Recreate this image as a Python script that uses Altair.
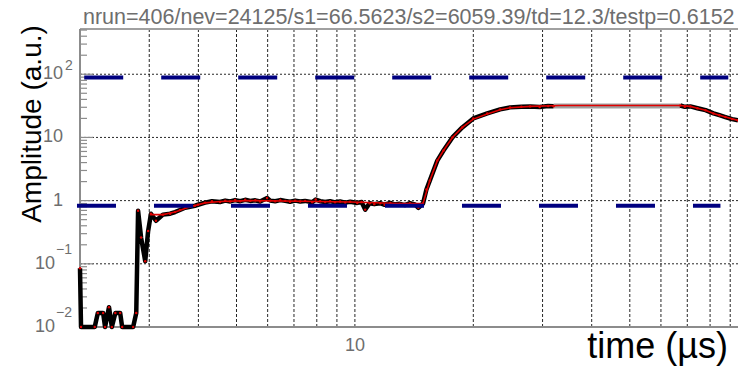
import altair as alt
import pandas as pd

# ---------------- data ----------------
title_text = "nrun=406/nev=24125/s1=66.5623/s2=6059.39/td=12.3/testp=0.6152"

# measured signal, first part (time in us, amplitude)
sig1_t = [2.000, 2.012, 2.18, 2.22, 2.29, 2.316, 2.37, 2.41, 2.46, 2.53, 2.56, 2.73,
          2.78, 2.81, 2.86, 2.93, 2.98, 3.03, 3.12, 3.25, 3.39, 3.49, 3.59, 3.70,
          3.81, 3.92, 3.99, 4.16, 4.33, 4.54, 4.68, 4.82, 4.96, 5.11, 5.26, 5.42,
          5.58, 5.74, 5.98, 6.09, 6.27, 6.46, 6.65, 6.84, 7.05, 7.26, 7.47, 7.79,
          7.95, 8.16, 8.40, 8.65, 8.90, 9.17, 9.45, 9.73, 10.14, 10.40, 10.62, 10.9,
          11.2, 11.6, 11.9, 12.3, 12.6, 13.0, 13.4, 13.8, 14.2, 14.5, 14.9, 15.2,
          15.5, 16.2, 16.8, 17.7, 18.75, 20.0, 21.7, 23.4, 24.8, 26.5, 27.9, 29.5,
          31.0, 32.0]
sig1_a = [0.085, 0.01, 0.01, 0.0167, 0.0167, 0.01, 0.0206, 0.01, 0.0167, 0.0167, 0.01, 0.01,
          0.0166, 0.69, 0.26, 0.11, 0.33, 0.62, 0.48, 0.60, 0.62, 0.66, 0.71, 0.77,
          0.80, 0.83, 0.86, 0.93, 0.98, 0.95, 1.00, 0.97, 1.02, 0.98, 1.03, 0.99,
          1.01, 0.97, 1.10, 1.00, 0.98, 1.02, 0.99, 0.96, 1.00, 0.97, 0.99, 0.94,
          1.04, 0.98, 0.95, 0.98, 0.94, 0.97, 0.93, 0.96, 0.92, 0.95, 0.72, 0.91,
          0.88, 0.91, 0.86, 0.92, 0.87, 0.89, 0.85, 0.91, 0.87, 0.77, 0.90, 1.5,
          2.07, 4.3, 6.2, 10.0, 14.4, 20.0, 24.0, 27.8, 29.9, 30.5, 31.0, 30.2,
          31.5, 31.2]
# measured signal, tail part
sig2_t = [67.2, 69.0, 71.3, 74.3, 77.9, 81.6, 84.5, 87.5, 91.0, 94.2]
sig2_a = [32.0, 30.5, 31.0, 29.0, 27.0, 24.0, 22.5, 21.0, 19.5, 18.6]
# saturated stretch (grey)
sat_t = [32.0, 67.2]
sat_a = [31.5, 31.5]
# fit curve
fit_t = [3.01, 3.25, 3.49, 3.81, 4.16, 4.54, 5.42, 7.26, 9.73, 13.0, 14.9, 15.5, 16.2,
         16.8, 17.7, 18.75, 20.0, 21.7, 23.4, 24.8, 27.9, 33.3, 67.2, 71.3, 74.3,
         77.9, 81.6, 87.5, 94.2]
fit_a = [0.60, 0.60, 0.66, 0.80, 0.92, 0.97, 1.00, 0.98, 0.95, 0.90, 0.90, 2.07, 4.3,
         6.2, 10.0, 14.4, 19.5, 23.5, 27.5, 29.5, 31.0, 32.0, 32.0, 31.0, 29.0,
         27.0, 24.0, 21.0, 18.6]
# dashed blue reference lines
dash_y = [89.0, 0.83]
dash_x1 = [2.05, 1.965]
dash_x2 = [89.0, 85.0]
# axes
xgrid_vals = [3, 4, 5, 6, 7, 8, 9, 10, 20, 30, 40, 50, 60, 70, 80, 90]
ygrid_vals = [0.1, 1, 10, 100]
ytick_vals = [100, 10, 1, 0.1, 0.01]
ytick_base = ["10", "10", "1", "10", "10"]
ytick_exp = ["2", "", "", "\u22121", "\u22122"]
ymajor_ticks = [0.01, 0.1, 1, 10, 100]
yminor_ticks = [k * 10.0 ** e for e in range(-2, 3) for k in range(2, 10) if k * 10.0 ** e <= 500]
xlabel_vals = [10]
xlabel_text = ["10"]

W, H = 658, 298
xs = alt.Scale(type="log", domain=[2, 94.2])
ys = alt.Scale(type="log", domain=[0.01, 520])
FONT = "Liberation Sans"
GREY = "#8c8c8c"
LABC = "#6e6e6e"

sig1 = pd.DataFrame({"t": sig1_t, "a": sig1_a, "seg": 1})
sig2 = pd.DataFrame({"t": sig2_t, "a": sig2_a, "seg": 2})
sig = pd.concat([sig1, sig2], ignore_index=True)

X = lambda f: alt.X(f, scale=xs, axis=None, title=None)
Y = lambda f: alt.Y(f, scale=ys, axis=None, title=None)

xgrid = alt.Chart(pd.DataFrame({"v": xgrid_vals})).mark_rule(
    color="#000", strokeWidth=1, strokeDash=[3, 2], opacity=0.85
).encode(x=X("v:Q"))
ygrid = alt.Chart(pd.DataFrame({"v": ygrid_vals})).mark_rule(
    color="#000", strokeWidth=1, strokeDash=[2, 2], opacity=0.85
).encode(y=Y("v:Q"))
frame_df = pd.DataFrame({"k": [0]})
topframe = alt.Chart(frame_df).mark_rule(color="#a0a0a0", strokeWidth=2).encode(
    y=alt.value(0), x=alt.value(0), x2=alt.value(W))
leftframe = alt.Chart(frame_df).mark_rule(color=GREY, strokeWidth=2).encode(
    x=alt.value(0), y=alt.value(0), y2=alt.value(H))
bottomframe = alt.Chart(frame_df).mark_rule(color=GREY, strokeWidth=2).encode(
    y=alt.value(H), x=alt.value(0), x2=alt.value(W))
minor = alt.Chart(pd.DataFrame({"v": yminor_ticks})).mark_rule(color=GREY, strokeWidth=1.2).encode(
    y=Y("v:Q"), x=alt.value(0), x2=alt.value(7))
major = alt.Chart(pd.DataFrame({"v": ymajor_ticks})).mark_rule(color=GREY, strokeWidth=1.2).encode(
    y=Y("v:Q"), x=alt.value(0), x2=alt.value(13))

sat = alt.Chart(pd.DataFrame({"t": sat_t, "a": sat_a})).mark_line(color="#a0a0a0", strokeWidth=5).encode(
    x=X("t:Q"), y=Y("a:Q"))
signal = alt.Chart(sig).mark_line(color="#000", strokeWidth=4.5, strokeJoin="round").encode(
    x=X("t:Q"), y=Y("a:Q"), detail="seg:N")
pts = alt.Chart(sig).mark_point(color="#e00000", filled=True, size=6, opacity=1).encode(
    x=X("t:Q"), y=Y("a:Q"))
fit = alt.Chart(pd.DataFrame({"t": fit_t, "a": fit_a})).mark_line(color="#e00000", strokeWidth=1.6).encode(
    x=X("t:Q"), y=Y("a:Q"))
dashes = alt.Chart(pd.DataFrame({"x1": dash_x1, "x2": dash_x2, "y": dash_y})).mark_rule(
    color="#000080", strokeWidth=4, strokeDash=[39, 38]
).encode(x=X("x1:Q"), x2="x2:Q", y=Y("y:Q"))

lab = pd.DataFrame({"v": ytick_vals, "base": ytick_base, "exp": ytick_exp})
lab_base = alt.Chart(lab).transform_calculate(
    xp="indexof(datum.exp, '\u2212') >= 0 ? -25 : -17"
).mark_text(align="right", baseline="middle", font=FONT, fontSize=18, color=LABC).encode(
    x=alt.X("xp:Q", scale=None, axis=None), y=Y("v:Q"), text="base:N")
lab_exp_pos = alt.Chart(lab).transform_filter("datum.exp == '2'").mark_text(
    align="left", baseline="middle", font=FONT, fontSize=14, color=LABC, dx=-15, dy=-8
).encode(x=alt.value(0), y=Y("v:Q"), text="exp:N")
lab_exp_neg = alt.Chart(lab).transform_filter("indexof(datum.exp, '\u2212') >= 0").mark_text(
    align="left", baseline="middle", font=FONT, fontSize=14, color=LABC, dx=-24, dy=-14
).encode(x=alt.value(0), y=Y("v:Q"), text="exp:N")
xlab = alt.Chart(pd.DataFrame({"v": xlabel_vals, "s": xlabel_text})).mark_text(
    align="center", baseline="top", font=FONT, fontSize=18, color=LABC
).encode(x=X("v:Q"), y=alt.value(H + 10), text="s:N")

one = pd.DataFrame({"s": [title_text], "xt": ["time (\u00b5s)"], "yt": ["Amplitude (a.u.)"]})
title = alt.Chart(one).mark_text(align="left", baseline="alphabetic", font=FONT, fontSize=21.5,
                                 color=LABC).encode(text="s:N", x=alt.value(3), y=alt.value(-5))
xtitle = alt.Chart(one).mark_text(align="right", baseline="alphabetic", font=FONT, fontSize=36,
                                  color="#000").encode(text="xt:N", x=alt.value(648), y=alt.value(329))
ytitle = alt.Chart(one).mark_text(align="center", baseline="middle", font=FONT, fontSize=28,
                                  color="#000", angle=270).encode(text="yt:N", x=alt.value(-47), y=alt.value(95))

chart = alt.layer(
    xgrid, ygrid, topframe, leftframe, bottomframe, minor, major, sat, signal, pts, fit, dashes,
    lab_base, lab_exp_pos, lab_exp_neg, xlab, title, xtitle, ytitle
).properties(
    width=W, height=H,
    autosize=alt.AutoSizeParams(type="none"),
    padding={"left": 80, "top": 29, "right": 0, "bottom": 42},
    background="#ffffff"
).configure_view(stroke=None)

chart.save("out.html", embed_options={"renderer": "svg", "actions": False})
